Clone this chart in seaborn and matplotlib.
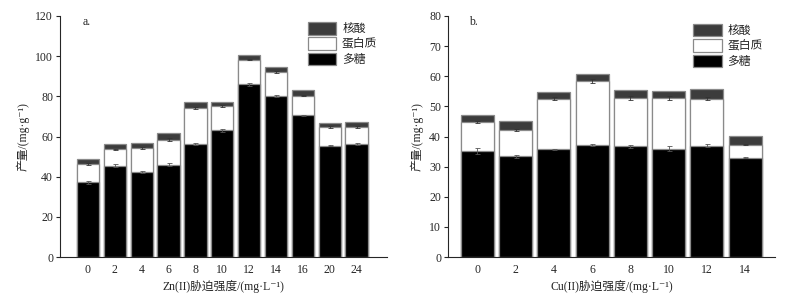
import numpy as np
import pandas as pd
import matplotlib
matplotlib.use("Agg")
import matplotlib.pyplot as plt
from matplotlib.patches import Patch
import seaborn as sns

# Datos (mg/g)
zn_levels = ["0", "2", "4", "6", "8", "10", "12", "14", "16", "20", "24"]
zn_poly = [37.2, 45.5, 42.2, 46.0, 56.2, 63.0, 86.0, 80.0, 70.5, 55.5, 56.2]
zn_prot = [9.3, 8.1, 12.0, 12.5, 18.0, 12.3, 12.3, 12.2, 9.8, 9.2, 8.6]
zn_nuc = [2.2, 2.5, 2.6, 3.3, 3.0, 2.0, 2.5, 2.5, 3.0, 2.2, 2.5]
zn_poly_err = [0.8, 0.6, 0.5, 0.8, 0.5, 0.6, 0.8, 0.5, 0.3, 0.4, 0.4]
zn_prot_err = [0.5, 0.4, 0.6, 0.6, 0.5, 0.4, 0.4, 0.4, 0.3, 0.4, 0.4]

cu_levels = ["0", "2", "4", "6", "8", "10", "12", "14"]
cu_poly = [35.2, 33.4, 35.7, 37.1, 36.7, 36.0, 37.0, 33.0]
cu_prot = [9.6, 8.8, 16.9, 21.2, 16.0, 16.7, 15.6, 4.3]
cu_nuc = [2.5, 3.1, 2.1, 2.4, 2.6, 2.5, 3.3, 2.9]
cu_poly_err = [1.0, 0.5, 0.3, 0.4, 0.6, 0.8, 0.4, 0.3]
cu_prot_err = [0.4, 0.4, 0.5, 0.7, 0.6, 0.6, 0.6, 0.2]

legend_labels = ["核酸", "蛋白质", "多糖"]

C_POLY = "#000000"
C_PROT = "#ffffff"
C_NUC = "#3c3c3c"
EDGE = "#8a8a8a"

sns.set_theme(style="ticks")
plt.rcParams["font.family"] = ["Liberation Serif", "Noto Sans CJK SC", "DejaVu Sans"]
plt.rcParams["font.size"] = 8.5
FS = 8.5


def stacked(ax, levels, poly, prot, nuc, perr, prerr, width):
    df = pd.DataFrame({"nivel": levels, "poly": poly, "prot": prot, "nuc": nuc})
    df["top_prot"] = df["poly"] + df["prot"]
    df["top_nuc"] = df["top_prot"] + df["nuc"]
    # se dibuja del total hacia abajo para simular el apilado
    for col, color in [("top_nuc", C_NUC), ("top_prot", C_PROT), ("poly", C_POLY)]:
        sns.barplot(data=df, x="nivel", y=col, color=color, width=width,
                    edgecolor=EDGE, linewidth=0.9, saturation=1, ax=ax,
                    errorbar=None)
    xs = np.arange(len(levels))
    ax.errorbar(xs, df["poly"], yerr=perr, fmt="none", ecolor="#555555",
                elinewidth=0.6, capsize=1.8, capthick=0.6)
    ax.errorbar(xs, df["top_prot"], yerr=prerr, fmt="none", ecolor="#333333",
                elinewidth=0.6, capsize=1.8, capthick=0.6)


fig = plt.figure(figsize=(8, 2.98), dpi=100)
ax1 = fig.add_axes([60 / 800, 1 - 257 / 298, 327 / 800, 241 / 298])
ax2 = fig.add_axes([448 / 800, 1 - 257 / 298, 327 / 800, 241 / 298])

stacked(ax1, zn_levels, zn_poly, zn_prot, zn_nuc, zn_poly_err, zn_prot_err, 0.83)
stacked(ax2, cu_levels, cu_poly, cu_prot, cu_nuc, cu_poly_err, cu_prot_err, 0.86)

ax1.set_ylim(0, 120)
ax1.set_yticks(range(0, 121, 20))
ax1.set_xlim(-1.04, 10 + 1.13)
ax2.set_ylim(0, 80)
ax2.set_yticks(range(0, 81, 10))
ax2.set_xlim(-0.77, 7.78)

for ax, xl, tag in [(ax1, "Zn(II)胁迫强度/(mg·L⁻¹)", "a."),
                    (ax2, "Cu(II)胁迫强度/(mg·L⁻¹)", "b.")]:
    sns.despine(ax=ax)
    ax.spines["left"].set_linewidth(0.8)
    ax.spines["bottom"].set_linewidth(0.8)
    ax.tick_params(axis="y", direction="out", length=3, width=0.8, labelsize=FS, pad=2)
    ax.tick_params(axis="x", length=0, labelsize=FS, pad=5)
    ax.set_xlabel(xl, fontsize=FS, labelpad=3)
    ax.set_ylabel("产量/(mg·g⁻¹)", fontsize=FS, labelpad=4)
    ax.text(0.07 if ax is ax1 else 0.065, 1.0, tag, transform=ax.transAxes,
            fontsize=FS, va="top", ha="left")

handles = [Patch(facecolor=C_NUC, edgecolor=EDGE, linewidth=0.9),
           Patch(facecolor=C_PROT, edgecolor=EDGE, linewidth=0.9),
           Patch(facecolor=C_POLY, edgecolor=EDGE, linewidth=0.9)]
for ax, anchor in [(ax1, (0.758, 0.975)), (ax2, (0.75, 0.967))]:
    ax.legend(handles, legend_labels, loc="upper left", bbox_to_anchor=anchor,
              frameon=False, fontsize=FS, handlelength=2.4, handleheight=1.25,
              labelspacing=0.18, handletextpad=0.5, borderpad=0, borderaxespad=0)

fig.savefig("out.png", dpi=100)
